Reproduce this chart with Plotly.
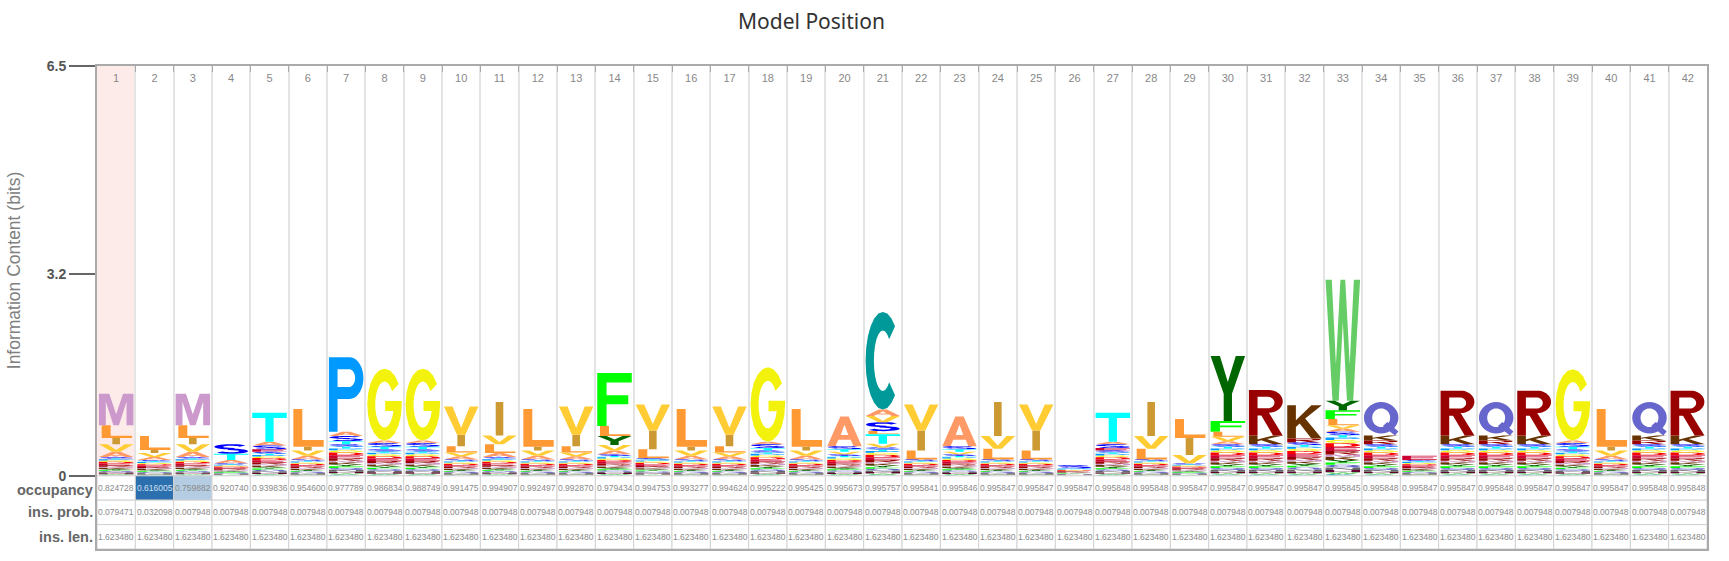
import math
import plotly.graph_objects as go

POSITIONS = list(range(1, 43))

# residues making up the thin stripe band at the bottom of each column (bottom -> top)
MINOR_RES = ["C", "W", "H", "N", "Q", "F", "Y", "K", "M", "R", "E", "D", "G", "P", "T", "S"]
MINOR_SHARE = [0.04, 0.04, 0.05, 0.06, 0.06, 0.05, 0.06, 0.07, 0.05, 0.08, 0.09, 0.09, 0.07, 0.06, 0.05, 0.08]

# height (bits) of the stripe band in each column
MINOR_BITS = [0.30, 0.25, 0.30, 0.20, 0.38, 0.26, 0.50, 0.42, 0.42, 0.26,
              0.30, 0.26, 0.26, 0.34, 0.28, 0.26, 0.26, 0.40, 0.26, 0.34,
              0.45, 0.26, 0.34, 0.26, 0.26, 0.12, 0.40, 0.26, 0.20, 0.50,
              0.50, 0.53, 0.70, 0.50, 0.25, 0.50, 0.50, 0.50, 0.42, 0.26,
              0.50, 0.50]

# letters stacked on top of the stripe band (bottom -> top), heights in bits
MAIN_LETTERS = [
    [("A", 0.08), ("V", 0.12), ("I", 0.10), ("L", 0.20), ("M", 0.50)],
    [("A", 0.05), ("V", 0.06), ("I", 0.05), ("L", 0.22)],
    [("A", 0.08), ("V", 0.12), ("I", 0.10), ("L", 0.20), ("M", 0.50)],
    [("A", 0.05), ("T", 0.10), ("S", 0.15)],
    [("E", 0.04), ("S", 0.06), ("A", 0.06), ("T", 0.46)],
    [("A", 0.06), ("V", 0.08), ("I", 0.06), ("L", 0.60)],
    [("T", 0.05), ("S", 0.08), ("A", 0.07), ("P", 1.18)],
    [("T", 0.04), ("S", 0.06), ("A", 0.04), ("G", 1.14)],
    [("T", 0.04), ("S", 0.06), ("A", 0.04), ("G", 1.14)],
    [("A", 0.05), ("V", 0.06), ("L", 0.10), ("I", 0.18), ("V", 0.45)],
    [("A", 0.06), ("L", 0.14), ("V", 0.14), ("I", 0.53)],
    [("A", 0.06), ("V", 0.08), ("I", 0.06), ("L", 0.60)],
    [("A", 0.05), ("V", 0.06), ("L", 0.10), ("I", 0.18), ("V", 0.45)],
    [("A", 0.06), ("V", 0.09), ("Y", 0.14), ("L", 0.16), ("F", 0.84)],
    [("L", 0.14), ("I", 0.30), ("V", 0.41)],
    [("A", 0.06), ("V", 0.08), ("I", 0.06), ("L", 0.60)],
    [("A", 0.05), ("V", 0.06), ("L", 0.10), ("I", 0.18), ("V", 0.45)],
    [("T", 0.04), ("S", 0.06), ("A", 0.04), ("G", 1.18)],
    [("A", 0.06), ("V", 0.08), ("I", 0.06), ("L", 0.60)],
    [("V", 0.04), ("T", 0.04), ("S", 0.05), ("A", 0.47)],
    [("V", 0.06), ("T", 0.15), ("L", 0.05), ("S", 0.14), ("V", 0.10), ("A", 0.10), ("C", 1.55)],
    [("L", 0.14), ("I", 0.32), ("V", 0.41)],
    [("V", 0.04), ("T", 0.04), ("S", 0.05), ("A", 0.47)],
    [("L", 0.17), ("V", 0.20), ("I", 0.54)],
    [("L", 0.14), ("I", 0.32), ("V", 0.41)],
    [("S", 0.05)],
    [("E", 0.04), ("S", 0.06), ("A", 0.04), ("T", 0.46)],
    [("L", 0.17), ("V", 0.20), ("I", 0.54)],
    [("V", 0.13), ("I", 0.27), ("L", 0.30)],
    [("A", 0.05), ("V", 0.07), ("L", 0.08), ("F", 0.17), ("Y", 1.03)],
    [("K", 0.14), ("R", 0.72)],
    [("R", 0.06), ("K", 0.53)],
    [("A", 0.05), ("V", 0.05), ("L", 0.10), ("F", 0.14), ("Y", 0.15), ("W", 1.92)],
    [("R", 0.06), ("K", 0.08), ("Q", 0.53)],
    [("E", 0.07)],
    [("K", 0.14), ("R", 0.71)],
    [("R", 0.06), ("K", 0.08), ("Q", 0.53)],
    [("K", 0.14), ("R", 0.71)],
    [("T", 0.04), ("S", 0.06), ("A", 0.04), ("G", 1.13)],
    [("A", 0.06), ("V", 0.08), ("I", 0.06), ("L", 0.60)],
    [("R", 0.06), ("K", 0.08), ("Q", 0.53)],
    [("K", 0.14), ("R", 0.71)],
]

OCCUPANCY = [0.824728, 0.616005, 0.759882, 0.920740, 0.939836, 0.954600, 0.977789, 0.986834,
             0.988749, 0.991475, 0.994907, 0.992497, 0.992870, 0.979434, 0.994753, 0.993277,
             0.994624, 0.995222, 0.995425, 0.995673, 0.995757, 0.995841, 0.995846, 0.995847,
             0.995847, 0.995847, 0.995848, 0.995848, 0.995847, 0.995847, 0.995847, 0.995847,
             0.995845, 0.995848, 0.995847, 0.995847, 0.995848, 0.995847, 0.995847, 0.995847,
             0.995848, 0.995848]
INS_PROB = [0.079471, 0.032098] + [0.007948] * 40
INS_LEN = [1.623480] * 42

ROW_NAMES = ["occupancy", "ins. prob.", "ins. len."]

COLORS = {
    "A": "#FF9966", "C": "#009999", "D": "#FF0000", "E": "#CC0033", "F": "#00FF00",
    "G": "#F2F20C", "H": "#660033", "I": "#CC9933", "K": "#663300", "L": "#FF9933",
    "M": "#CC99CC", "N": "#666666", "P": "#0099FF", "Q": "#6666CC", "R": "#990000",
    "S": "#0000FF", "T": "#00FFFF", "V": "#FFCC33", "W": "#66CC66", "Y": "#006600",
}


# ---- letter outlines in a unit box ----
def arc(cx, cy, rx, ry, a0, a1, n=18):
    return [(cx + rx * math.cos(math.radians(a0 + (a1 - a0) * k / n)),
             cy + ry * math.sin(math.radians(a0 + (a1 - a0) * k / n))) for k in range(n + 1)]


def stroke(centre, tx, ty):
    left, right = [], []
    for i, (x, y) in enumerate(centre):
        xa, ya = centre[max(i - 1, 0)]
        xb, yb = centre[min(i + 1, len(centre) - 1)]
        dx, dy = xb - xa, yb - ya
        d = math.hypot(dx, dy) or 1.0
        nx, ny = -dy / d, dx / d
        left.append((x + nx * tx, y + ny * ty))
        right.append((x - nx * tx, y - ny * ty))
    return left + right[::-1]


def make_glyphs():
    g = {}
    g["A"] = [("o", [(0, 0), (0.38, 1), (0.62, 1), (1, 0), (0.76, 0), (0.68, 0.22), (0.32, 0.22), (0.24, 0)]),
              ("h", [(0.39, 0.38), (0.61, 0.38), (0.5, 0.72)])]
    g["C"] = [("o", arc(0.5, 0.5, 0.5, 0.5, 45, 315) + arc(0.5, 0.5, 0.26, 0.31, 315, 45))]
    g["D"] = [("o", [(0, 0), (0, 1), (0.45, 1)] + arc(0.45, 0.5, 0.55, 0.5, 90, -90)),
              ("h", [(0.24, 0.18), (0.24, 0.82), (0.45, 0.82)] + arc(0.45, 0.5, 0.32, 0.32, 90, -90))]
    g["E"] = [("o", [(0, 0), (0, 1), (1, 1), (1, 0.82), (0.25, 0.82), (0.25, 0.59), (0.9, 0.59),
                     (0.9, 0.42), (0.25, 0.42), (0.25, 0.18), (1, 0.18), (1, 0)])]
    g["F"] = [("o", [(0, 0), (0, 1), (1, 1), (1, 0.82), (0.27, 0.82), (0.27, 0.58), (0.9, 0.58),
                     (0.9, 0.41), (0.27, 0.41), (0.27, 0)])]
    g["G"] = [("o", arc(0.5, 0.5, 0.5, 0.5, 35, 360) + [(1, 0.55), (0.52, 0.55), (0.52, 0.41), (0.77, 0.41)]
               + arc(0.5, 0.5, 0.27, 0.32, 345, 35))]
    g["H"] = [("o", [(0, 0), (0, 1), (0.25, 1), (0.25, 0.6), (0.75, 0.6), (0.75, 1), (1, 1), (1, 0),
                     (0.75, 0), (0.75, 0.42), (0.25, 0.42), (0.25, 0)])]
    g["I"] = [("o", [(0.39, 0), (0.39, 1), (0.61, 1), (0.61, 0)])]
    g["K"] = [("o", [(0, 0), (0, 1), (0.25, 1), (0.25, 0.55), (0.7, 1), (1, 1), (0.52, 0.6), (1, 0),
                     (0.7, 0), (0.36, 0.45), (0.25, 0.35), (0.25, 0)])]
    g["L"] = [("o", [(0.08, 0), (0.08, 1), (0.34, 1), (0.34, 0.18), (0.96, 0.18), (0.96, 0)])]
    g["M"] = [("o", [(0, 0), (0, 1), (0.3, 1), (0.5, 0.35), (0.7, 1), (1, 1), (1, 0), (0.8, 0),
                     (0.8, 0.75), (0.58, 0), (0.42, 0), (0.2, 0.75), (0.2, 0)])]
    g["N"] = [("o", [(0, 0), (0, 1), (0.24, 1), (0.78, 0.3), (0.78, 1), (1, 1), (1, 0), (0.77, 0),
                     (0.22, 0.7), (0.22, 0)])]
    g["P"] = [("o", [(0, 0), (0, 1), (0.6, 1)] + arc(0.6, 0.72, 0.4, 0.28, 90, -90) + [(0.25, 0.44), (0.25, 0)]),
              ("h", [(0.25, 0.6), (0.25, 0.84), (0.58, 0.84)] + arc(0.58, 0.72, 0.18, 0.12, 90, -90))]
    g["Q"] = [("o", arc(0.5, 0.53, 0.5, 0.47, 0, 360, 36)),
              ("h", arc(0.5, 0.53, 0.26, 0.28, 0, 360, 36)),
              ("o", [(0.55, 0.28), (0.68, 0.4), (1.0, 0.12), (0.9, 0.0)])]
    g["R"] = [("o", [(0, 0), (0, 1), (0.58, 1)] + arc(0.58, 0.75, 0.4, 0.25, 90, -90)
               + [(0.98, 0), (0.7, 0), (0.36, 0.44), (0.25, 0.44), (0.25, 0)]),
              ("h", [(0.25, 0.6), (0.25, 0.85), (0.56, 0.85)] + arc(0.56, 0.725, 0.18, 0.125, 90, -90))]
    g["S"] = [("o", stroke(arc(0.5, 0.735, 0.36, 0.19, 25, 270) + arc(0.5, 0.265, 0.36, 0.19, 90, -155), 0.13, 0.085))]
    g["T"] = [("o", [(0, 1), (1, 1), (1, 0.82), (0.62, 0.82), (0.62, 0), (0.38, 0), (0.38, 0.82), (0, 0.82)])]
    g["V"] = [("o", [(0, 1), (0.25, 1), (0.5, 0.25), (0.75, 1), (1, 1), (0.62, 0), (0.38, 0)])]
    g["W"] = [("o", [(0, 1), (0.18, 1), (0.3, 0.3), (0.43, 1), (0.57, 1), (0.7, 0.3), (0.82, 1), (1, 1),
                     (0.8, 0), (0.62, 0), (0.5, 0.65), (0.38, 0), (0.2, 0)])]
    g["Y"] = [("o", [(0, 1), (0.27, 1), (0.5, 0.6), (0.73, 1), (1, 1), (0.62, 0.42), (0.62, 0), (0.38, 0),
                     (0.38, 0.42)])]
    # make outlines counter-clockwise and holes clockwise (nonzero fill)
    out = {}
    for k, parts in g.items():
        fixed = []
        for kind, pts in parts:
            area = sum(pts[i][0] * pts[(i + 1) % len(pts)][1] - pts[(i + 1) % len(pts)][0] * pts[i][1]
                       for i in range(len(pts)))
            if (kind == "o") != (area > 0):
                pts = pts[::-1]
            fixed.append(pts)
        out[k] = fixed
    return out


GLYPHS = make_glyphs()
PAD = 0.05


def glyph_path(letter, x0, x1, y0, y1):
    s = []
    for pts in GLYPHS[letter]:
        coords = ["%.4f,%.5f" % (x0 + u * (x1 - x0), y0 + v * (y1 - y0)) for u, v in pts]
        s.append("M" + "L".join(coords) + "Z")
    return "".join(s)


# ---- geometry of the panel ----
Y_TOP = 6.5
Y_MIN = -1.161
ROW_H = -Y_MIN / 3

paths = {k: [] for k in COLORS}
for p, minor, main in zip(POSITIONS, MINOR_BITS, MAIN_LETTERS):
    stack = [(r, minor * s) for r, s in zip(MINOR_RES, MINOR_SHARE)] + main
    y = 0.0
    for letter, h in stack:
        paths[letter].append(glyph_path(letter, p - 0.5 + PAD, p + 0.5 - PAD, y, y + h))
        y += h

shapes = [dict(type="rect", xref="x", yref="y", x0=0.5, x1=1.5, y0=Y_MIN, y1=Y_TOP,
               fillcolor="#FDEBEA", line=dict(width=0), layer="below")]
for letter, plist in paths.items():
    if plist:
        shapes.append(dict(type="path", xref="x", yref="y", path="".join(plist),
                           fillcolor=COLORS[letter], fillrule="nonzero", line=dict(width=0)))

annotations = []
rows = [
    ["%.6f" % v for v in OCCUPANCY],
    ["%.6f" % v for v in INS_PROB],
    ["%.6f" % v for v in INS_LEN],
]
for r, (name, texts) in enumerate(zip(ROW_NAMES, rows)):
    yt, yb = -r * ROW_H, -(r + 1) * ROW_H
    for p, t in zip(POSITIONS, texts):
        fill = "white"
        tcol = "#8a8a8a"
        if r == 0 and OCCUPANCY[p - 1] < 0.7:
            fill, tcol = "#2C6FAE", "#cfe0f0"
        elif r == 0 and OCCUPANCY[p - 1] < 0.8:
            fill = "#B5CDE2"
        shapes.append(dict(type="rect", xref="x", yref="y", x0=p - 0.5, x1=p + 0.5, y0=yb, y1=yt,
                           fillcolor=fill, line=dict(color="#d2d2d2", width=1)))
        annotations.append(dict(xref="x", yref="y", x=p, y=(yt + yb) / 2, text=t, showarrow=False,
                                font=dict(size=8.5, color=tcol, family="Liberation Sans")))
    annotations.append(dict(xref="paper", yref="y", x=0, y=(yt + yb) / 2, xanchor="right", xshift=-2,
                            yshift=-2 if r == 0 else 0,
                            text="<b>%s</b>" % name, showarrow=False,
                            font=dict(size=14.5, color="#666", family="Liberation Sans")))

annotations.append(dict(xref="paper", yref="paper", x=-0.0516, y=0.577, xanchor="center", yanchor="middle",
                        text="Information Content (bits)", textangle=-90, showarrow=False,
                        font=dict(size=17.5, color="#808080", family="Liberation Sans")))
annotations.append(dict(xref="paper", yref="paper", x=0.444, y=1.093, xanchor="center", yanchor="middle",
                        text="Model Position", showarrow=False,
                        font=dict(size=21, color="#333", family="Noto Sans")))

fig = go.Figure()
fig.add_trace(go.Scatter(x=POSITIONS, y=[6.29] * len(POSITIONS), mode="text",
                         text=[str(p) for p in POSITIONS], hoverinfo="skip", showlegend=False,
                         textfont=dict(size=11, color="#888", family="Liberation Sans")))

fig.update_layout(
    width=1729, height=561,
    margin=dict(l=97, r=22, t=66, b=10),
    plot_bgcolor="white", paper_bgcolor="white",
    shapes=shapes, annotations=annotations, showlegend=False,
    xaxis=dict(range=[0.5, 42.5], tickvals=[p - 0.5 for p in POSITIONS] + [42.5], showticklabels=False,
               showgrid=True, gridcolor="#e4e4e4", gridwidth=2, side="top", ticks="inside", ticklen=6,
               tickcolor="#aaa", showline=True, linecolor="#aaa", linewidth=2, mirror=True,
               zeroline=False, fixedrange=True),
    yaxis=dict(range=[Y_MIN, Y_TOP], tickvals=[0, 3.2, 6.5], ticktext=["<b>0</b>", "<b>3.2</b>", "<b>6.5</b>"],
               ticks="outside", ticklen=26, tickcolor="#666", tickwidth=1.5, showgrid=False, zeroline=False,
               showline=True, linecolor="#aaa", linewidth=2, mirror=True, fixedrange=True,
               tickfont=dict(size=14, color="#555", family="Liberation Sans")),
)

fig.write_html("out.html", config={"displayModeBar": False},
               post_script="document.body.style.margin='0';")
